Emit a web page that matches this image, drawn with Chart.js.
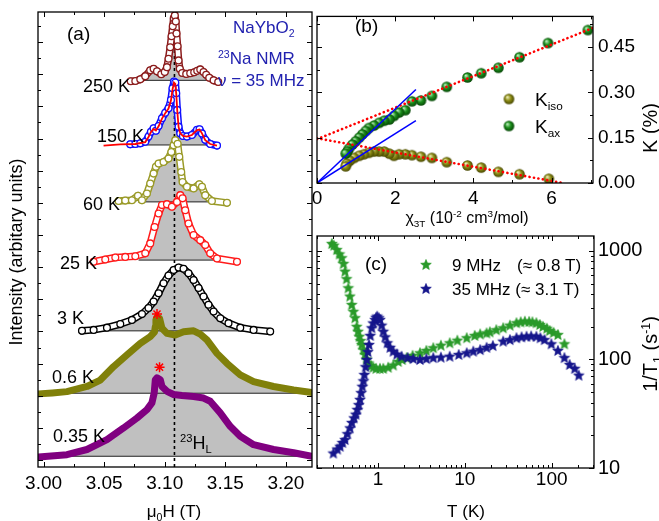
<!DOCTYPE html>
<html><head><meta charset="utf-8">
<script src="https://cdn.jsdelivr.net/npm/chart.js@4.4.1/dist/chart.umd.min.js"></script>
<style>
html,body{margin:0;padding:0;background:#fff;}
#wrap{position:relative;width:659px;height:521px;overflow:hidden;background:#fff;}
#wrap canvas{position:absolute;left:0;top:0;}
</style></head><body>
<div id="wrap">
<canvas id="ca" width="659" height="521"></canvas>
<canvas id="cb" width="659" height="521"></canvas>
<canvas id="cc" width="659" height="521"></canvas>
</div>
<script>
// ================= DATA =================
// ---- panel (a): 23Na NMR spectra ----
const fieldTicks = [3.00, 3.05, 3.10, 3.15, 3.20];
const temps = ['250 K', '150 K', '60 K', '25 K', '3 K', '0.6 K', '0.35 K'];
const offsets = [11.81, 9.80, 8.03, 6.22, 4.02, 2.08, 0.12];
const larmorField = 3.108;

const h250 = [3.0719,3.0757,3.0798,3.0839,3.0880,3.0908,3.0936,3.0971,3.1000,3.1018,3.1031,3.1045,3.1056,3.1066,3.1074,3.1083,3.1091,3.1097,3.1106,3.1114,3.1124,3.1144,3.1177,3.1210,3.1243,3.1268,3.1293,3.1320,3.1342,3.1367,3.1403,3.1441];
const i250 = [-0.03,-0.02,0.03,0.13,0.31,0.36,0.28,0.19,0.26,0.41,0.67,1.03,1.37,1.68,1.93,2.02,1.83,1.46,1.06,0.62,0.36,0.23,0.20,0.22,0.25,0.30,0.34,0.26,0.17,0.08,0.00,-0.05];
const h150 = [3.0715,3.0757,3.0798,3.0839,3.0866,3.0886,3.0908,3.0927,3.0949,3.0977,3.1004,3.1031,3.1051,3.1064,3.1076,3.1087,3.1095,3.1103,3.1114,3.1128,3.1150,3.1183,3.1224,3.1266,3.1287,3.1307,3.1334,3.1375,3.1431];
const i150 = [0.02,0.03,0.05,0.10,0.26,0.41,0.52,0.44,0.59,0.83,1.00,1.14,1.40,1.76,1.97,1.94,1.61,1.09,0.57,0.36,0.28,0.26,0.31,0.47,0.49,0.36,0.16,0.03,-0.02];
const fit150H = [3.0495,3.0633,3.0757,3.0839,3.0866,3.0886,3.0908,3.0927,3.0949,3.0977,3.1004,3.1031,3.1051,3.1064,3.1076,3.1087,3.1095,3.1103,3.1114,3.1128,3.1150,3.1183,3.1224,3.1266,3.1287,3.1307,3.1334,3.1375,3.1431];
const fit150I = [-0.02,0.02,0.03,0.09,0.25,0.40,0.50,0.45,0.58,0.82,0.99,1.13,1.38,1.72,1.94,1.90,1.58,1.07,0.56,0.36,0.28,0.26,0.31,0.46,0.48,0.36,0.15,0.03,-0.02];
const h60 = [3.0619,3.0674,3.0729,3.0779,3.0812,3.0853,3.0880,3.0908,3.0927,3.0949,3.0990,3.1031,3.1054,3.1073,3.1087,3.1106,3.1120,3.1136,3.1147,3.1183,3.1238,3.1285,3.1307,3.1334,3.1389,3.1513];
const i60 = [0.03,0.04,0.05,0.19,0.05,0.26,0.57,0.88,1.09,1.19,1.24,1.35,1.55,1.76,1.92,1.81,1.40,0.93,0.62,0.47,0.42,0.55,0.47,0.21,0.03,-0.03];
const h25 = [3.0413,3.0509,3.0592,3.0674,3.0757,3.0839,3.0880,3.0916,3.0949,3.0977,3.1018,3.1059,3.1101,3.1128,3.1147,3.1169,3.1196,3.1238,3.1293,3.1334,3.1375,3.1431,3.1596];
const i25 = [-0.05,0.02,0.08,0.10,0.12,0.21,0.52,1.03,1.45,1.71,1.74,1.66,1.81,2.02,1.92,1.55,1.14,0.78,0.62,0.47,0.21,0.05,-0.05];
const h3 = [3.0317,3.0413,3.0523,3.0633,3.0729,3.0812,3.0866,3.0908,3.0949,3.0990,3.1031,3.1073,3.1114,3.1155,3.1196,3.1238,3.1279,3.1320,3.1361,3.1403,3.1458,3.1526,3.1623,3.1733,3.1870];
const i3 = [0.00,0.03,0.10,0.21,0.34,0.52,0.71,0.91,1.17,1.48,1.72,1.89,1.97,1.93,1.79,1.58,1.33,1.07,0.81,0.60,0.39,0.24,0.10,0.03,-0.02];
const h06 = [2.9959,3.0072,3.0193,3.0358,3.0468,3.0578,3.0688,3.0798,3.0880,3.0916,3.0922,3.0927,3.0936,3.0957,3.0977,3.1018,3.1087,3.1155,3.1238,3.1293,3.1348,3.1431,3.1513,3.1623,3.1733,3.1898,3.2063,3.2215];
const i06 = [-0.02,0.01,0.05,0.21,0.41,0.83,1.19,1.55,1.76,1.91,2.07,2.28,2.37,2.33,2.02,1.86,1.81,1.91,1.94,1.84,1.66,1.24,0.93,0.57,0.36,0.21,0.10,0.02];
const h035 = [2.9959,3.0193,3.0358,3.0523,3.0660,3.0771,3.0853,3.0894,3.0913,3.0922,3.0936,3.0963,3.0977,3.1018,3.1073,3.1142,3.1238,3.1320,3.1375,3.1458,3.1540,3.1623,3.1733,3.1898,3.2063,3.2215];
const i035 = [-0.02,0.05,0.21,0.52,0.88,1.19,1.45,1.66,1.97,2.38,2.44,2.38,2.17,2.02,1.92,1.89,1.86,1.81,1.71,1.35,0.93,0.62,0.36,0.21,0.11,0.00];
// shaded (grey) field range of each spectrum
const fillFrom = [3.0823, 3.0798, 3.0779, 3.0784, 3.0399, 2.99, 2.99];
const fillTo   = [3.1367, 3.1375, 3.1389, 3.1403, 3.1761, 3.23, 3.23];
// red asterisks (0.6 K and 0.35 K)
const starSpec = [5, 6];
const starH = [3.0936, 3.0957];
const starI = [2.46, 2.77];

// ---- panel (b): K vs chi ----
const chiTicks = [0, 2, 4, 6];
const kTicks = [0.00, 0.15, 0.30, 0.45];
const chiAx = [6.93,5.91,5.18,4.64,4.20,3.85,3.32,2.94,2.66,2.43,2.26,2.10,1.97,1.85,1.72,1.59,1.46,1.33,1.25,1.16,1.08,0.99,0.905,0.82,0.78,0.735];
const kAx   = [0.506,0.463,0.416,0.381,0.363,0.349,0.318,0.288,0.273,0.270,0.241,0.233,0.222,0.210,0.206,0.199,0.190,0.182,0.172,0.161,0.150,0.138,0.127,0.114,0.105,0.097];
const chiIso = [5.93,5.18,4.64,4.20,3.85,3.32,2.94,2.66,2.43,2.26,2.10,1.97,1.85,1.72,1.59,1.46,1.33,1.20,1.08,0.95,0.84,0.76,0.735];
const kIso   = [0.014,0.029,0.037,0.051,0.058,0.069,0.083,0.087,0.092,0.095,0.095,0.090,0.097,0.104,0.104,0.104,0.100,0.095,0.090,0.083,0.074,0.064,0.055];
const fitAxChi = [0, 7.06], fitAxK = [0.145, 0.513];
const fitIsoChi = [0, 6.29], fitIsoK = [0.148, 0.0];
const slopeHiChi = [0, 2.53], slopeHiK = [0, 0.309];
const slopeLoChi = [0, 2.53], slopeLoK = [0, 0.206];

// ---- panel (c): 1/T1 vs T ----
const tTicks = [1, 10, 100];
const rTicks = [10, 100, 1000];
const t9 = [0.294,0.31,0.335,0.36,0.382,0.40,0.417,0.435,0.455,0.475,0.498,0.52,0.544,0.569,0.59,0.61,0.63,0.65,0.68,0.709,0.74,0.774,0.83,0.883,0.95,1.054,1.15,1.31,1.5,1.71,1.9,2.14,2.5,3.04,3.6,4.33,5.3,6.7,8.2,10.5,13,15,17.8,19.4,23,27.6,33,39.3,44,49.1,55,60,66.6,73,79.3,88,94.6,105,118,140];
const r9 = [1161,1120,1020,930,857,760,645,550,453,380,318,275,240,200,180,162,148,136,122,110,100,92,87,84,82,82,82,84,88,95,99,103,108,114,120,127,134,141,149,157,165,170,174,178,186,194,205,216,220,223,222,220,216,208,200,192,183,176,168,138];
const t35 = [0.306,0.34,0.366,0.39,0.417,0.445,0.476,0.50,0.53,0.555,0.578,0.60,0.621,0.64,0.66,0.68,0.696,0.72,0.742,0.765,0.788,0.815,0.846,0.88,0.924,0.95,0.98,1.02,1.054,1.1,1.15,1.21,1.28,1.38,1.5,1.65,1.87,2.2,2.55,3.04,3.6,4.33,5.3,6.7,8.5,10.5,12.5,15,17.8,21,27.6,33,39.3,45,51.3,58,66.6,74,82.6,99,118,140,161,184,205];
const r35 = [13.6,14.8,15.7,17,18.1,20.5,23.2,26,28.7,31,34.3,38,42.4,49,56,63,72,85,99,117,136,165,194,215,231,242,248,240,231,205,180,160,141,128,118,111,106,103,101,99,101,103,104,106,110,114,118,122,128,133,146,151,157,160,162,163,162,157,151,138,120,103,89,82,71];
const seriesNames = ['9 MHz', '35 MHz'];

// ================= HELPERS =================
const FONT = "'Liberation Sans', Arial, Helvetica, sans-serif";
function rich(ctx, x, y, parts, size, align, color) {
  ctx.fillStyle = color || '#000';
  ctx.textBaseline = 'alphabetic';
  ctx.textAlign = 'left';
  const fs = m => (m ? size * 0.62 : size);
  let w = 0;
  for (const [t, m] of parts) { ctx.font = fs(m) + 'px ' + FONT; w += ctx.measureText(t).width; }
  let cx = align === 'center' ? x - w / 2 : align === 'right' ? x - w : x;
  for (const [t, m] of parts) {
    ctx.font = fs(m) + 'px ' + FONT;
    const dy = m === 1 ? size * 0.22 : m === 2 ? -size * 0.38 : 0;
    ctx.fillText(t, cx, y + dy);
    cx += ctx.measureText(t).width;
  }
}
function rotated(ctx, cx, cy, parts, size) {
  ctx.save();
  ctx.translate(cx + size * 0.36, cy);
  ctx.rotate(-Math.PI / 2);
  rich(ctx, 0, 0, parts, size, 'center');
  ctx.restore();
}
function makeBall(base, light, dark, r) {
  const c = document.createElement('canvas');
  const s = Math.ceil(2 * r + 2); c.width = c.height = s;
  const g = c.getContext('2d'); const m = s / 2;
  const gr = g.createRadialGradient(m - r * 0.35, m - r * 0.4, r * 0.05, m, m, r);
  gr.addColorStop(0, light); gr.addColorStop(0.5, base); gr.addColorStop(1, dark);
  g.fillStyle = gr; g.beginPath(); g.arc(m, m, r, 0, Math.PI * 2); g.fill();
  return c;
}
function makeStar(color, r) {
  const c = document.createElement('canvas');
  const s = Math.ceil(2 * r + 2); c.width = c.height = s;
  const g = c.getContext('2d'); const m = s / 2;
  g.beginPath();
  for (let k = 0; k < 10; k++) {
    const rr = k % 2 ? r * 0.45 : r;
    const a = -Math.PI / 2 + k * Math.PI / 5;
    const px = m + rr * Math.cos(a), py = m + rr * Math.sin(a);
    k ? g.lineTo(px, py) : g.moveTo(px, py);
  }
  g.closePath(); g.fillStyle = color; g.fill();
  g.lineWidth = 0.6; g.strokeStyle = color; g.stroke();
  return c;
}
function boxPlugin(id, cfg) {
  return {
    id,
    afterDraw(chart) {
      const ctx = chart.ctx, a = chart.chartArea, sx = chart.scales.x, sy = chart.scales.y;
      ctx.save();
      ctx.strokeStyle = '#000'; ctx.lineWidth = 1;
      ctx.beginPath();
      for (const [v, len] of cfg.xt) {
        const p = Math.round(sx.getPixelForValue(v)) + 0.5;
        ctx.moveTo(p, a.bottom); ctx.lineTo(p, a.bottom - len);
        ctx.moveTo(p, a.top); ctx.lineTo(p, a.top + len);
      }
      for (const [v, len] of cfg.yt) {
        const p = Math.round(sy.getPixelForValue(v)) + 0.5;
        ctx.moveTo(a.left, p); ctx.lineTo(a.left + len, p);
        ctx.moveTo(a.right, p); ctx.lineTo(a.right - len, p);
      }
      ctx.stroke();
      ctx.lineWidth = 1.3;
      ctx.strokeRect(a.left, a.top, a.right - a.left, a.bottom - a.top);
      if (cfg.text) cfg.text(ctx, chart);
      ctx.restore();
    }
  };
}
function linTicks(lo, hi, step, len) {
  const out = []; const n = Math.round((hi - lo) / step);
  for (let k = 0; k <= n; k++) out.push([lo + k * step, len]);
  return out;
}
function logTicks(min, max) {
  const out = [];
  for (let d = -2; d <= 4; d++) for (let k = 1; k <= 9; k++) {
    const v = k * Math.pow(10, d);
    if (v >= min * 0.999 && v <= max * 1.001) out.push([v, k === 1 ? 5 : 3]);
  }
  return out;
}
const pts = (xs, ys, off) => xs.map((x, j) => ({ x, y: ys[j] + (off || 0) }));
const common = { responsive: false, animation: false, devicePixelRatio: 1, events: [],
  plugins: { legend: { display: false }, tooltip: { enabled: false }, filler: { drawTime: 'beforeDatasetsDraw' } } };
const tickFont = (s) => ({ family: FONT, size: s });

// ================= PANEL (a) =================
(function () {
  const H = [h250, h150, h60, h25, h3, h06, h035];
  const I = [i250, i150, i60, i25, i3, i06, i035];
  const colors = ['#8b1c1c', '#1010ff', '#9a9a28', '#ff1a1a', '#000000', '#80800a', '#800080'];
  const hollow = [true, true, true, true, true, false, false];
  const ds = [];
  const aMin = -0.214, aMax = 13.935;
  H.forEach((hs, k) => {
    const off = offsets[k];
    const fillPts = [{ x: fillFrom[k], y: off }];
    hs.forEach((h, j) => { if (h > fillFrom[k] && h < fillTo[k]) fillPts.push({ x: h, y: off + Math.max(0, I[k][j]) }); });
    fillPts.push({ x: fillTo[k], y: off });
    ds.push({ data: fillPts, showLine: true, fill: { value: off }, backgroundColor: '#c0c0c0', borderWidth: 0, pointRadius: 0, order: 40 });
    ds.push({ data: [{ x: fillFrom[k], y: off }, { x: fillTo[k], y: off }], showLine: true, borderColor: '#222', borderWidth: 1, pointRadius: 0, order: 30 });
    const line = pts(hs, I[k], off);
    if (hollow[k]) {
      ds.push({ data: line, showLine: true, borderColor: colors[k], borderWidth: 7.5, borderCapStyle: 'round', borderJoinStyle: 'round', pointRadius: 0, order: 12 });
      ds.push({ data: line, showLine: true, borderColor: '#fff', borderWidth: 4.5, borderCapStyle: 'round', borderJoinStyle: 'round', pointRadius: 0, order: 11 });
      ds.push({ data: line, showLine: false, pointRadius: 3.4, pointBackgroundColor: '#fff', pointBorderColor: colors[k], pointBorderWidth: 1.3, order: 10 });
    } else {
      ds.push({ data: line, showLine: true, borderColor: colors[k], borderWidth: 7, borderCapStyle: 'round', borderJoinStyle: 'round', pointRadius: 0, order: 12 });
    }
  });
  ds.push({ data: pts(fit150H, fit150I, offsets[1]), showLine: true, borderColor: '#ff0000', borderWidth: 1.8, pointRadius: 0, order: 5 });
  ds.push({ data: [{ x: larmorField, y: aMin }, { x: larmorField, y: aMax }], showLine: true, borderColor: '#000', borderWidth: 1.6, borderDash: [3, 3], pointRadius: 0, order: 20 });
  ds.push({ data: starH.map((h, j) => ({ x: h, y: offsets[starSpec[j]] + starI[j] })), showLine: false, pointStyle: 'star', pointRadius: 5, pointBorderColor: '#ff0000', pointBorderWidth: 1.5, order: 1 });

  const xt = linTicks(3.00, 3.20, 0.05, 5).concat(linTicks(3.025, 3.175, 0.05, 3));
  const yt = linTicks(0, 13, 1, 5).concat(linTicks(0.5, 13.5, 1, 3));
  const labelPos = [[83, 85], [97, 135], [83, 203], [60, 262], [57, 317], [52, 376], [53, 435]];
  new Chart(document.getElementById('ca'), {
    type: 'scatter',
    data: { datasets: ds },
    options: Object.assign({}, common, {
      layout: { padding: { left: 0, top: 12, right: 347, bottom: 0 } },
      scales: {
        x: { type: 'linear', min: 2.9954, max: 3.2215,
          afterBuildTicks: s => { s.ticks = fieldTicks.map(v => ({ value: v })); },
          afterFit: s => { s.height = 54; },
          ticks: { callback: v => v.toFixed(2), font: tickFont(19), color: '#000', padding: 5, maxRotation: 0, autoSkip: false },
          grid: { display: false, drawTicks: false }, border: { display: false } },
        y: { type: 'linear', min: aMin, max: aMax,
          afterFit: s => { s.width = 38; },
          ticks: { display: false }, grid: { display: false, drawTicks: false }, border: { display: false } }
      }
    }),
    plugins: [boxPlugin('boxA', { xt, yt, text: (ctx) => {
      rich(ctx, 67, 40, [['(a)', 0]], 19);
      const blue = '#2222b0';
      rich(ctx, 233, 33, [['NaYbO', 0], ['2', 1]], 17, 'left', blue);
      rich(ctx, 218, 64, [['23', 2], ['Na NMR', 0]], 17, 'left', blue);
      rich(ctx, 218, 86, [['\u03bd = 35 MHz', 0]], 17, 'left', blue);
      temps.forEach((t, k) => rich(ctx, labelPos[k][0], labelPos[k][1] + 6.5, [[t, 0]], 18));
      rich(ctx, 180, 449, [['23', 2], ['H', 0], ['L', 1]], 18);
      rotated(ctx, 16, 252, [['Intensity (arbitary units)', 0]], 18);
      rich(ctx, 174, 517, [['\u03bc', 0], ['0', 1], ['H (T)', 0]], 17, 'center');
    } })]
  });
})();

// ================= PANEL (b) =================
(function () {
  const ballOlive = makeBall('#8f8f16', '#f4f4c4', '#464600', 5.3);
  const ballGreen = makeBall('#1c8f1c', '#c4f4c4', '#064606', 5.3);
  const ds = [
    { data: pts(slopeHiChi, slopeHiK), showLine: true, borderColor: '#0000ff', borderWidth: 1.5, pointRadius: 0, order: 0 },
    { data: pts(slopeLoChi, slopeLoK), showLine: true, borderColor: '#0000ff', borderWidth: 1.5, pointRadius: 0, order: 0 },
    { data: pts(fitAxChi, fitAxK), showLine: true, borderColor: '#ff0000', borderWidth: 2.6, borderDash: [0.1, 4.4], borderCapStyle: 'round', pointRadius: 0, order: 1 },
    { data: pts(fitIsoChi, fitIsoK), showLine: true, borderColor: '#ff0000', borderWidth: 2.6, borderDash: [0.1, 4.4], borderCapStyle: 'round', pointRadius: 0, order: 1 },
    { data: pts(chiAx, kAx), showLine: false, pointStyle: ballGreen, order: 3 },
    { data: pts(chiIso, kIso), showLine: false, pointStyle: ballOlive, order: 4 }
  ];
  const xt = linTicks(0, 6, 2, 5).concat(linTicks(1, 7, 2, 3));
  const yt = linTicks(0, 0.45, 0.15, 5).concat(linTicks(0.075, 0.525, 0.15, 3));
  new Chart(document.getElementById('cb'), {
    type: 'scatter',
    data: { datasets: ds },
    options: Object.assign({}, common, {
      layout: { padding: { left: 317, top: 10, right: 6, bottom: 308 } },
      scales: {
        x: { type: 'linear', min: 0, max: 7.06,
          afterBuildTicks: s => { s.ticks = chiTicks.map(v => ({ value: v })); },
          afterFit: s => { s.height = 30; },
          ticks: { callback: v => String(v), font: tickFont(19), color: '#000', padding: 4, maxRotation: 0, autoSkip: false },
          grid: { display: false, drawTicks: false }, border: { display: false } },
        y: { type: 'linear', position: 'right', min: 0, max: 0.551,
          afterBuildTicks: s => { s.ticks = kTicks.map(v => ({ value: v })); },
          afterFit: s => { s.width = 60; },
          ticks: { callback: v => v.toFixed(2), font: tickFont(19), color: '#000', padding: 5, autoSkip: false },
          grid: { display: false, drawTicks: false }, border: { display: false } }
      }
    }),
    plugins: [boxPlugin('boxB', { xt, yt, text: (ctx) => {
      rich(ctx, 355, 32, [['(b)', 0]], 19);
      ctx.drawImage(ballOlive, 509 - ballOlive.width / 2, 99 - ballOlive.height / 2);
      ctx.drawImage(ballGreen, 509 - ballGreen.width / 2, 126 - ballGreen.height / 2);
      rich(ctx, 535, 106, [['K', 0], ['iso', 1]], 19);
      rich(ctx, 535, 133, [['K', 0], ['ax', 1]], 19);
      rich(ctx, 467, 223, [['\u03c7', 0], ['3T', 1], [' (10', 0], ['-2', 2], [' cm', 0], ['3', 2], ['/mol)', 0]], 16, 'center');
      rotated(ctx, 650, 128, [['K (%)', 0]], 20);
    } })]
  });
})();

// ================= PANEL (c) =================
(function () {
  const green = '#2a9a2a', navy = '#16168c';
  const starG = makeStar(green, 5.6);
  const starB = makeStar(navy, 5.6);
  const ds = [
    { data: pts(t35, r35), showLine: false, pointStyle: starB, order: 0 },
    { data: pts(t9, r9), showLine: false, pointStyle: starG, order: 1 }
  ];
  const xMin = 0.1984, xMax = 307, yMin = 10, yMax = 1374;
  new Chart(document.getElementById('cc'), {
    type: 'scatter',
    data: { datasets: ds },
    options: Object.assign({}, common, {
      layout: { padding: { left: 317, top: 236, right: 5, bottom: 23 } },
      scales: {
        x: { type: 'logarithmic', min: xMin, max: xMax,
          afterBuildTicks: s => { s.ticks = tTicks.map(v => ({ value: v })); },
          afterFit: s => { s.height = 30; },
          ticks: { callback: v => String(v), font: tickFont(19), color: '#000', padding: 0, maxRotation: 0, autoSkip: false },
          grid: { display: false, drawTicks: false }, border: { display: false } },
        y: { type: 'logarithmic', position: 'right', min: yMin, max: yMax,
          afterBuildTicks: s => { s.ticks = rTicks.map(v => ({ value: v })); },
          afterFit: s => { s.width = 60; },
          ticks: { callback: v => String(v), font: tickFont(20), color: '#000', padding: 4, autoSkip: false },
          grid: { display: false, drawTicks: false }, border: { display: false } }
      }
    }),
    plugins: [boxPlugin('boxC', { xt: logTicks(xMin, xMax), yt: logTicks(yMin, yMax), text: (ctx) => {
      rich(ctx, 365, 270, [['(c)', 0]], 19);
      ctx.drawImage(starG, 426 - starG.width / 2, 265 - starG.height / 2);
      ctx.drawImage(starB, 426 - starB.width / 2, 289 - starB.height / 2);
      rich(ctx, 452, 271, [[seriesNames[0], 0]], 17);
      rich(ctx, 517, 271, [['(\u2248 0.8 T)', 0]], 17);
      rich(ctx, 452, 295, [[seriesNames[1] + ' (\u2248 3.1 T)', 0]], 17);
      rich(ctx, 466, 517, [['T (K)', 0]], 17, 'center');
      rotated(ctx, 650, 354, [['1/T', 0], ['1', 1], [' (s', 0], ['-1', 2], [')', 0]], 20);
    } })]
  });
})();
</script>
</body></html>
